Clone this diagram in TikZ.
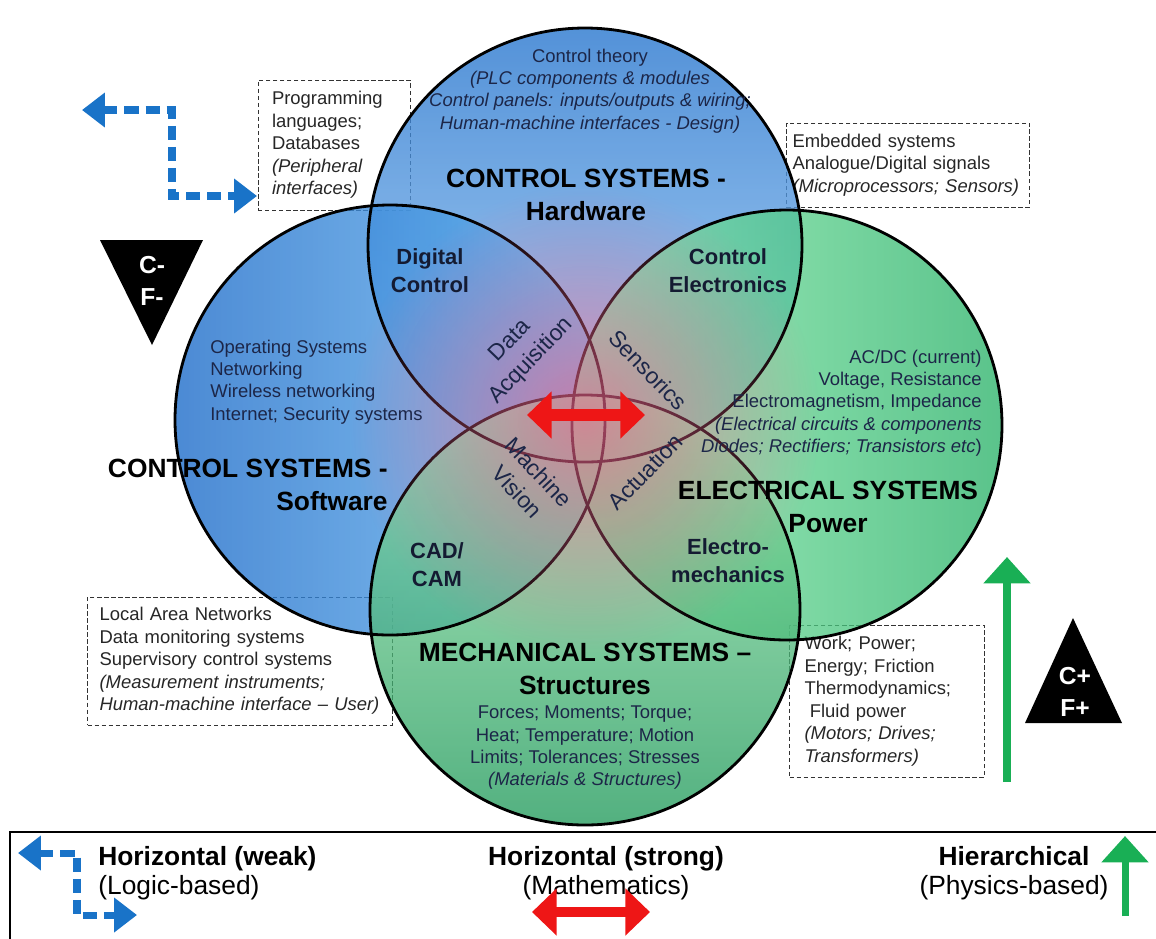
\documentclass[tikz,border=0pt]{standalone}
\usepackage{fontspec}
\setmainfont{Liberation Sans}
\usetikzlibrary{arrows.meta, fadings, positioning}

\definecolor{txtnavy}{RGB}{28,38,72}
\definecolor{arrowblue}{RGB}{25,115,200}
\definecolor{arrowred}{RGB}{238,22,22}
\definecolor{arrowgreen}{RGB}{25,175,85}
\definecolor{glowpink}{RGB}{235,100,140}
\definecolor{hwtop}{RGB}{35,115,205}
\definecolor{hwbot}{RGB}{150,200,245}
\definecolor{swleft}{RGB}{25,105,200}
\definecolor{swright}{RGB}{105,185,242}
\definecolor{elleft}{RGB}{135,235,170}
\definecolor{elright}{RGB}{35,175,100}
\definecolor{metop}{RGB}{150,228,170}
\definecolor{mebot}{RGB}{25,150,85}

\tikzfading[name=glowfade, inner color=transparent!30, outer color=transparent!100]

\begin{document}
\begin{tikzpicture}[x=0.02cm, y=-0.02cm,
  body/.style={font=\fontsize{10.5}{12.7}\selectfont, text=txtnavy, inner sep=0pt},
  title/.style={font=\fontsize{15}{18.7}\selectfont\bfseries, align=center, inner sep=0pt},
  overlap/.style={font=\fontsize{12.5}{16}\selectfont\bfseries, align=center, text=txtnavy!70!black, inner sep=0pt},
  link/.style={font=\fontsize{13}{16.5}\selectfont, align=center, text=txtnavy, inner sep=0pt},
  notebox/.style={draw=black!80, line width=0.5pt, dash pattern=on 2.5pt off 1.5pt, align=left,
                  inner ysep=0pt, font=\fontsize{10.5}{12.8}\selectfont, text=black!85},
  legend/.style={font=\fontsize{15}{16.5}\selectfont, inner sep=0pt},
  badge/.style={font=\fontsize{14}{18}\selectfont\bfseries, text=white, align=center, inner sep=0pt},
  weak/.style={arrowblue, line width=4.5pt, dash pattern=on 8pt off 4pt,
               {Triangle[length=13pt,width=19pt]}-{Triangle[length=13pt,width=19pt]}},
  strong/.style={arrowred, line width=7pt,
                 {Triangle[length=14pt,width=26pt]}-{Triangle[length=14pt,width=26pt]}},
  hier/.style={arrowgreen, line width=5pt, -{Triangle[length=15pt,width=26pt]}},
  ring/.style={draw=black, line width=1.6pt},
]
  \useasboundingbox (0,0) rectangle (1156,938);

  % notes that sit behind the circles
  \node[notebox, text width=2.48cm, inner xsep=0.28cm, minimum height=2.6cm] (prog) at (334,145)
    {Programming\\languages;\\Databases\\\textit{(Peripheral}\\\textit{interfaces)}};
  \node[notebox, text width=4.62cm, inner xsep=0.12cm, minimum height=1.68cm] (embed) at (908,165)
    {Embedded systems\\Analogue/Digital signals\\\textit{(Microprocessors; Sensors)}};
  \node[notebox, text width=5.62cm, inner xsep=0.24cm, minimum height=2.56cm] (lan) at (240,661)
    {Local Area Networks\\Data monitoring systems\\Supervisory control systems\\
     \textit{(Measurement instruments;}\\\textit{Human-machine interface -- User)}};
  \node[notebox, text width=3.3cm, inner xsep=0.3cm, minimum height=3.04cm] (work) at (887,701)
    {Work; Power;\\Energy; Friction\\Thermodynamics;\\\hspace{3pt}Fluid power\\
     \textit{(Motors; Drives;}\\\textit{Transformers)}};

  % the four circles
  \shade[top color=hwtop, bottom color=hwbot, opacity=0.78] (585,245) circle (217);
  \shade[left color=swleft, right color=swright, opacity=0.78] (390,420) circle (215);
  \shade[left color=elleft, right color=elright, opacity=0.75] (787,425) circle (215);
  \shade[top color=metop, bottom color=mebot, opacity=0.75] (585,610) circle (215);
  \draw[ring] (585,245) circle (217);
  \draw[ring] (390,420) circle (215);
  \draw[ring] (787,425) circle (215);
  \draw[ring] (585,610) circle (215);
  \begin{scope}
    \clip (585,245) circle (217) (390,420) circle (215) (787,425) circle (215) (585,610) circle (215);
    \fill[glowpink, path fading=glowfade] (585,420) circle (235);
  \end{scope}

  % hardware
  \node[body, align=center] (hwtext) at (590,91)
    {Control theory\\\textit{(PLC components \& modules}\\
     \textit{Control panels: inputs/outputs \& wiring;}\\\textit{Human-machine interfaces - Design)}};
  \node[title] (hw) at (586,195) {CONTROL SYSTEMS -\\Hardware};

  % software
  \node[body, align=left, anchor=west] (swtext) at (210,382)
    {Operating Systems\\Networking\\Wireless networking\\Internet; Security systems};
  \node[title, align=right, anchor=east] (sw) at (388,485) {CONTROL SYSTEMS -\\Software};

  % electrical
  \node[body, align=right, anchor=east] (eltext) at (982,403)
    {AC/DC (current)\\Voltage, Resistance\\Electromagnetism, Impedance\\
     \textit{(Electrical circuits \& components}\\\textit{Diodes; Rectifiers; Transistors etc})};
  \node[title] (el) at (828,507) {ELECTRICAL SYSTEMS\\Power};

  % mechanical
  \node[title] (me) at (585,669) {MECHANICAL SYSTEMS --\\Structures};
  \node[body, align=center] (metext) at (585,748)
    {Forces; Moments; Torque;\\Heat; Temperature; Motion\\Limits; Tolerances; Stresses\\
     \textit{(Materials \& Structures)}};

  % overlaps
  \node[overlap] (dig) at (430,271) {Digital\\Control};
  \node[overlap] (ctl) at (728,271) {Control\\Electronics};
  \node[overlap] (cad) at (437,565) {CAD/\\CAM};
  \node[overlap] (emech) at (728,561) {Electro-\\mechanics};
  \node[link, rotate=46] (daq) at (521,351) {Data\\Acquisition};
  \node[link, rotate=-46] (sens) at (648,370) {Sensorics};
  \node[link, rotate=-47] (mv) at (528,482) {Machine\\Vision};
  \node[link, rotate=46] (act) at (645,472) {Actuation};

  % coupling arrows
  \draw[strong] (527,415) -- (645,415);
  \draw[weak] (82,110) -- (172,110) -- (172,196) -- (257,196);
  \draw[hier] (1007,782) -- (1007,557);

  % complexity badges
  \fill (100,240) -- (203,240) -- (152,345) -- cycle;
  \node[badge] (cfminus) at (152,281) {C-\\F-};
  \fill (1073,618) -- (1122,723) -- (1025,723) -- cycle;
  \node[badge] (cfplus) at (1075,692) {C+\\F+};

  % legend
  \draw[line width=0.8pt] (10,945) -- (10,832) -- (1165,832);
  \draw[weak, line width=4pt] (18,853) -- (77,853) -- (77,915) -- (137,915);
  \node[legend, align=left, anchor=west] (lgweak) at (98,873)
    {\textbf{Horizontal (weak)}\\(Logic-based)};
  \node[legend, align=center] (lgstrong) at (606,873)
    {\textbf{Horizontal (strong)}\\(Mathematics)};
  \draw[strong, line width=6pt] (532,912) -- (650,912);
  \node[legend, align=center] (lghier) at (1014,873)
    {\textbf{Hierarchical}\\(Physics-based)};
  \draw[hier, line width=4pt] (1125,916) -- (1125,836);
\end{tikzpicture}
\end{document}
